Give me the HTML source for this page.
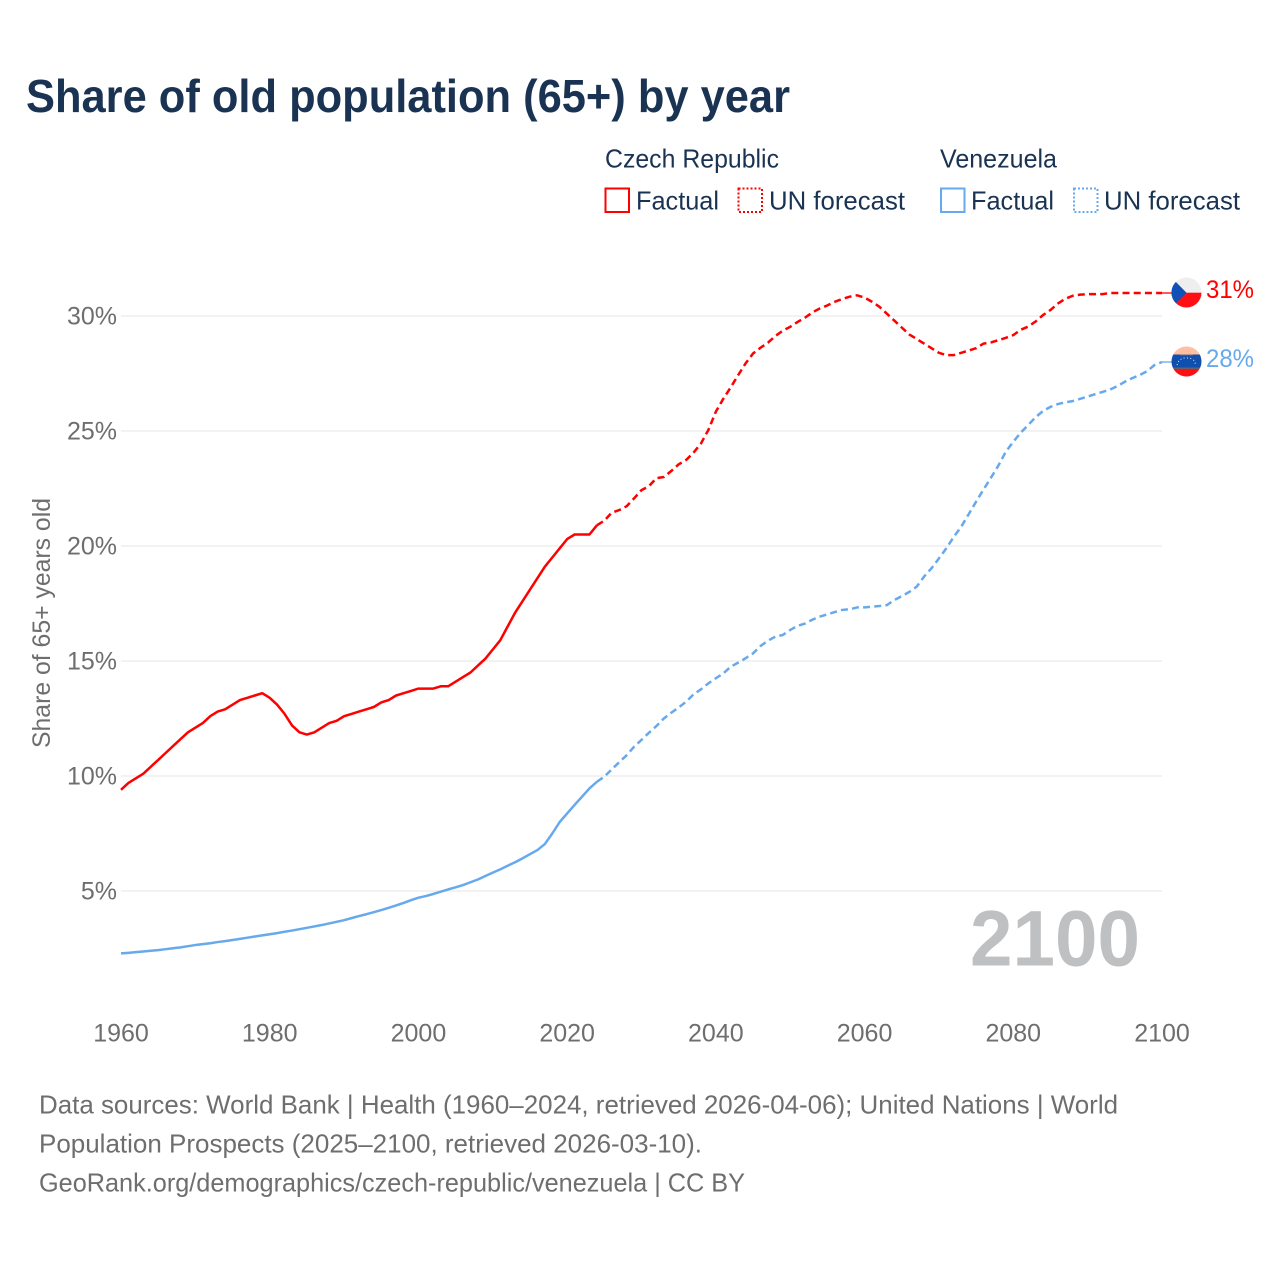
<!DOCTYPE html>
<html lang="en">
<head>
<meta charset="utf-8">
<title>Share of old population (65+) by year</title>
<style>
html,body{margin:0;padding:0;background:#fff;}
svg{display:block;font-family:"Liberation Sans",sans-serif;}
</style>
</head>
<body>
<svg id="chart" xmlns="http://www.w3.org/2000/svg" width="1280" height="1280" viewBox="0 0 1280 1280">
  <defs>
    <clipPath id="clip-cz"><circle cx="1186.5" cy="292.5" r="15"/></clipPath>
    <clipPath id="clip-ve"><circle cx="1186.5" cy="361.5" r="15"/></clipPath>
  </defs>
  <rect width="1280" height="1280" fill="#fff"/>
  <text x="26" y="112" font-size="46" font-weight="700" fill="#1a3353" textLength="764" lengthAdjust="spacingAndGlyphs">Share of old population (65+) by year</text>

  <g font-size="26" fill="#1a3353">
    <text x="605" y="167.5" textLength="174" lengthAdjust="spacingAndGlyphs">Czech Republic</text>
    <text x="940" y="167.5" textLength="117" lengthAdjust="spacingAndGlyphs">Venezuela</text>
    <rect x="605.5" y="188.5" width="23.5" height="23.5" fill="none" stroke="#ff0000" stroke-width="2"/>
    <text x="636" y="209.5" textLength="83" lengthAdjust="spacingAndGlyphs">Factual</text>
    <rect x="738.5" y="188.5" width="23.5" height="23.5" fill="none" stroke="#ff0000" stroke-width="2" stroke-dasharray="2 2"/>
    <text x="769" y="209.5" textLength="136" lengthAdjust="spacingAndGlyphs">UN forecast</text>
    <rect x="941" y="188.5" width="23.5" height="23.5" fill="none" stroke="#66a9ec" stroke-width="2"/>
    <text x="971" y="209.5" textLength="83" lengthAdjust="spacingAndGlyphs">Factual</text>
    <rect x="1074" y="188.5" width="23.5" height="23.5" fill="none" stroke="#66a9ec" stroke-width="2" stroke-dasharray="2 2"/>
    <text x="1104" y="209.5" textLength="136" lengthAdjust="spacingAndGlyphs">UN forecast</text>
  </g>

  <g id="grid"></g>
  <g id="yticks" font-size="25" fill="#6e6e6e" text-anchor="end"></g>
  <g id="xticks" font-size="25" fill="#6e6e6e" text-anchor="middle"></g>
  <text transform="translate(50,623) rotate(-90)" font-size="25" fill="#6e6e6e" text-anchor="middle" textLength="250" lengthAdjust="spacingAndGlyphs">Share of 65+ years old</text>

  <text x="970" y="965.5" font-size="79" font-weight="700" fill="#bfc0c2" textLength="170" lengthAdjust="spacingAndGlyphs">2100</text>

  <g id="series"></g>

  <g clip-path="url(#clip-cz)">
    <rect x="1171" y="277" width="31" height="16" fill="#eeeeee"/>
    <rect x="1171" y="292.7" width="31" height="16" fill="#ff0f14"/>
    <polygon points="1171,277 1186.5,292.7 1171,308" fill="#1150b4"/>
    <rect x="1171" y="276" width="3" height="33" fill="#1150b4"/>
  </g>
  <g clip-path="url(#clip-ve)">
    <rect x="1171" y="346" width="31" height="9" fill="#ffbfa0"/>
    <rect x="1171" y="354.5" width="31" height="13" fill="#0f4fae"/>
    <rect x="1180" y="354.5" width="13" height="1" fill="#5f6a80"/>
    <rect x="1171" y="369" width="31" height="8" fill="#ff0f14"/>
    <rect x="1171" y="367.5" width="31" height="1.6" fill="#66606a"/>
    <path d="M1177 365 L1179 360.5 L1183 358 L1190 358 L1194 360.5 L1196 365" fill="none" stroke="#e8eef8" stroke-width="1" stroke-dasharray="1 2.4"/>
  </g>
  <text x="1206" y="298" font-size="25" fill="#ff0000" textLength="48" lengthAdjust="spacingAndGlyphs">31%</text>
  <text x="1206" y="367" font-size="25" fill="#66a9ec" textLength="48" lengthAdjust="spacingAndGlyphs">28%</text>

  <g font-size="26" fill="#6e6e6e">
    <text x="39" y="1113.5" textLength="1079" lengthAdjust="spacingAndGlyphs">Data sources: World Bank | Health (1960–2024, retrieved 2026-04-06); United Nations | World</text>
    <text x="39" y="1152.5" textLength="663" lengthAdjust="spacingAndGlyphs">Population Prospects (2025–2100, retrieved 2026-03-10).</text>
    <text x="39" y="1191.5" textLength="706" lengthAdjust="spacingAndGlyphs">GeoRank.org/demographics/czech-republic/venezuela | CC BY</text>
  </g>
</svg>
<script>
const yTickValues = [5, 10, 15, 20, 25, 30];
const xTickValues = [1960, 1980, 2000, 2020, 2040, 2060, 2080, 2100];
const startYear = 1960;
const lastFactualYear = 2024;
const endYear = 2100;
const czechValues = [
  9.4, 9.7, 9.9, 10.1, 10.4, 10.7, 11.0, 11.3, 11.6, 11.9,
  12.1, 12.3, 12.6, 12.8, 12.9, 13.1, 13.3, 13.4, 13.5, 13.6,
  13.4, 13.1, 12.7, 12.2, 11.9, 11.8, 11.9, 12.1, 12.3, 12.4,
  12.6, 12.7, 12.8, 12.9, 13.0, 13.2, 13.3, 13.5, 13.6, 13.7,
  13.8, 13.8, 13.8, 13.9, 13.9, 14.1, 14.3, 14.5, 14.8, 15.1,
  15.5, 15.9, 16.5, 17.1, 17.6, 18.1, 18.6, 19.1, 19.5, 19.9,
  20.3, 20.5, 20.5, 20.5, 20.9, 21.1, 21.45, 21.56, 21.73, 22.07,
  22.43, 22.6, 22.95, 23.0, 23.26, 23.55, 23.74, 24.06, 24.46, 25.05,
  25.84, 26.4, 26.9, 27.43, 27.94, 28.37, 28.62, 28.84, 29.13, 29.36,
  29.53, 29.74, 29.93, 30.16, 30.33, 30.46, 30.62, 30.74, 30.84, 30.9,
  30.8, 30.62, 30.4, 30.1, 29.8, 29.5, 29.2, 29.0, 28.8, 28.6,
  28.4, 28.3, 28.3, 28.4, 28.5, 28.6, 28.8, 28.85, 28.95, 29.05,
  29.17, 29.4, 29.54, 29.76, 30.04, 30.26, 30.54, 30.75, 30.88, 30.93,
  30.95, 30.95, 30.95, 31.0, 31.0, 31.0, 31.0, 31.0, 31.0, 31.0, 31.0
];
const venezuelaValues = [
  2.29, 2.31, 2.34, 2.37, 2.4, 2.43, 2.47, 2.51, 2.55, 2.6,
  2.65, 2.69, 2.73, 2.78, 2.82, 2.87, 2.92, 2.97, 3.02, 3.07,
  3.12, 3.17, 3.23, 3.28, 3.34, 3.4, 3.46, 3.52, 3.59, 3.66,
  3.73, 3.82, 3.91, 3.99, 4.08, 4.17, 4.27, 4.37, 4.48, 4.6,
  4.71, 4.78, 4.87, 4.97, 5.07, 5.16, 5.26, 5.38, 5.5, 5.65,
  5.8, 5.94, 6.1, 6.25, 6.42, 6.6, 6.78, 7.04, 7.5, 8.0,
  8.37, 8.74, 9.1, 9.46, 9.75, 9.97, 10.29, 10.6, 10.9, 11.27,
  11.57, 11.88, 12.17, 12.5, 12.75, 12.98, 13.23, 13.55, 13.77, 14.03,
  14.25, 14.46, 14.75, 14.93, 15.12, 15.33, 15.65, 15.88, 16.06, 16.13,
  16.35, 16.53, 16.63, 16.8, 16.93, 17.03, 17.13, 17.22, 17.25, 17.33,
  17.33, 17.36, 17.39, 17.43, 17.65, 17.82, 18.0, 18.23, 18.67, 19.03,
  19.46, 19.9, 20.4, 20.84, 21.38, 21.93, 22.46, 22.97, 23.5, 24.1,
  24.53, 24.93, 25.26, 25.6, 25.87, 26.05, 26.17, 26.25, 26.3, 26.4,
  26.5, 26.6, 26.7, 26.8, 26.95, 27.14, 27.3, 27.43, 27.6, 27.87, 28.0
];

const svgNS = 'http://www.w3.org/2000/svg';
const xScale = year => 121 + (year - 1960) * (1162 - 121) / 140;
const yScale = value => 891 - (value - 5) * 23;

const gridGroup = document.getElementById('grid');
const yTickGroup = document.getElementById('yticks');
yTickValues.forEach(value => {
  const line = document.createElementNS(svgNS, 'line');
  
  
  line.setAttribute('x1', xScale(1960));
  line.setAttribute('x2', xScale(2100));
  line.setAttribute('y1', yScale(value));
  line.setAttribute('y2', yScale(value));
  line.setAttribute('stroke', '#eeeeee');
  line.setAttribute('stroke-width', '1.6');
  gridGroup.appendChild(line);
  const label = document.createElementNS(svgNS, 'text');
  
  
  label.setAttribute('x', 117);
  label.setAttribute('y', yScale(value) + 8.5);
  label.textContent = value + '%';
  yTickGroup.appendChild(label);
});

const xTickGroup = document.getElementById('xticks');
xTickValues.forEach(year => {
  const label = document.createElementNS(svgNS, 'text');
  
  
  label.setAttribute('x', xScale(year));
  label.setAttribute('y', 1041.5);
  label.textContent = String(year);
  xTickGroup.appendChild(label);
});

function pathFor(values, fromYear, toYear) {
  const parts = [];
  for (let year = fromYear; year <= toYear; year++) {
    const value = values[year - startYear];
    parts.push((parts.length ? 'L' : 'M') + xScale(year).toFixed(2) + ' ' + yScale(value).toFixed(2));
  }
  return parts.join(' ');
}

const seriesGroup = document.getElementById('series');
function drawLine(name, values, color, fromYear, toYear, dashed) {
  const path = document.createElementNS(svgNS, 'path');
  
  
  path.setAttribute('d', pathFor(values, fromYear, toYear));
  path.setAttribute('fill', 'none');
  path.setAttribute('stroke', color);
  path.setAttribute('stroke-width', '2.5');
  path.setAttribute('stroke-linejoin', 'round');
  if (dashed) path.setAttribute('stroke-dasharray', '7 4.2');
  seriesGroup.appendChild(path);
}
function drawLeader(name, values, color) {
  const last = values[endYear - startYear];
  const line = document.createElementNS(svgNS, 'line');
  
  
  line.setAttribute('x1', xScale(endYear));
  line.setAttribute('x2', xScale(endYear) + 10);
  line.setAttribute('y1', yScale(last));
  line.setAttribute('y2', yScale(last));
  line.setAttribute('stroke', color);
  line.setAttribute('stroke-width', '1.3');
  seriesGroup.appendChild(line);
}
drawLine('line-czech-factual', czechValues, '#ff0000', startYear, lastFactualYear, false);
drawLine('line-czech-forecast', czechValues, '#ff0000', lastFactualYear, endYear, true);
drawLeader('leader-czech-republic', czechValues, '#ff0000');
drawLine('line-venezuela-factual', venezuelaValues, '#66a9ec', startYear, lastFactualYear, false);
drawLine('line-venezuela-forecast', venezuelaValues, '#66a9ec', lastFactualYear, endYear, true);
drawLeader('leader-venezuela', venezuelaValues, '#66a9ec');
</script>
</body>
</html>
